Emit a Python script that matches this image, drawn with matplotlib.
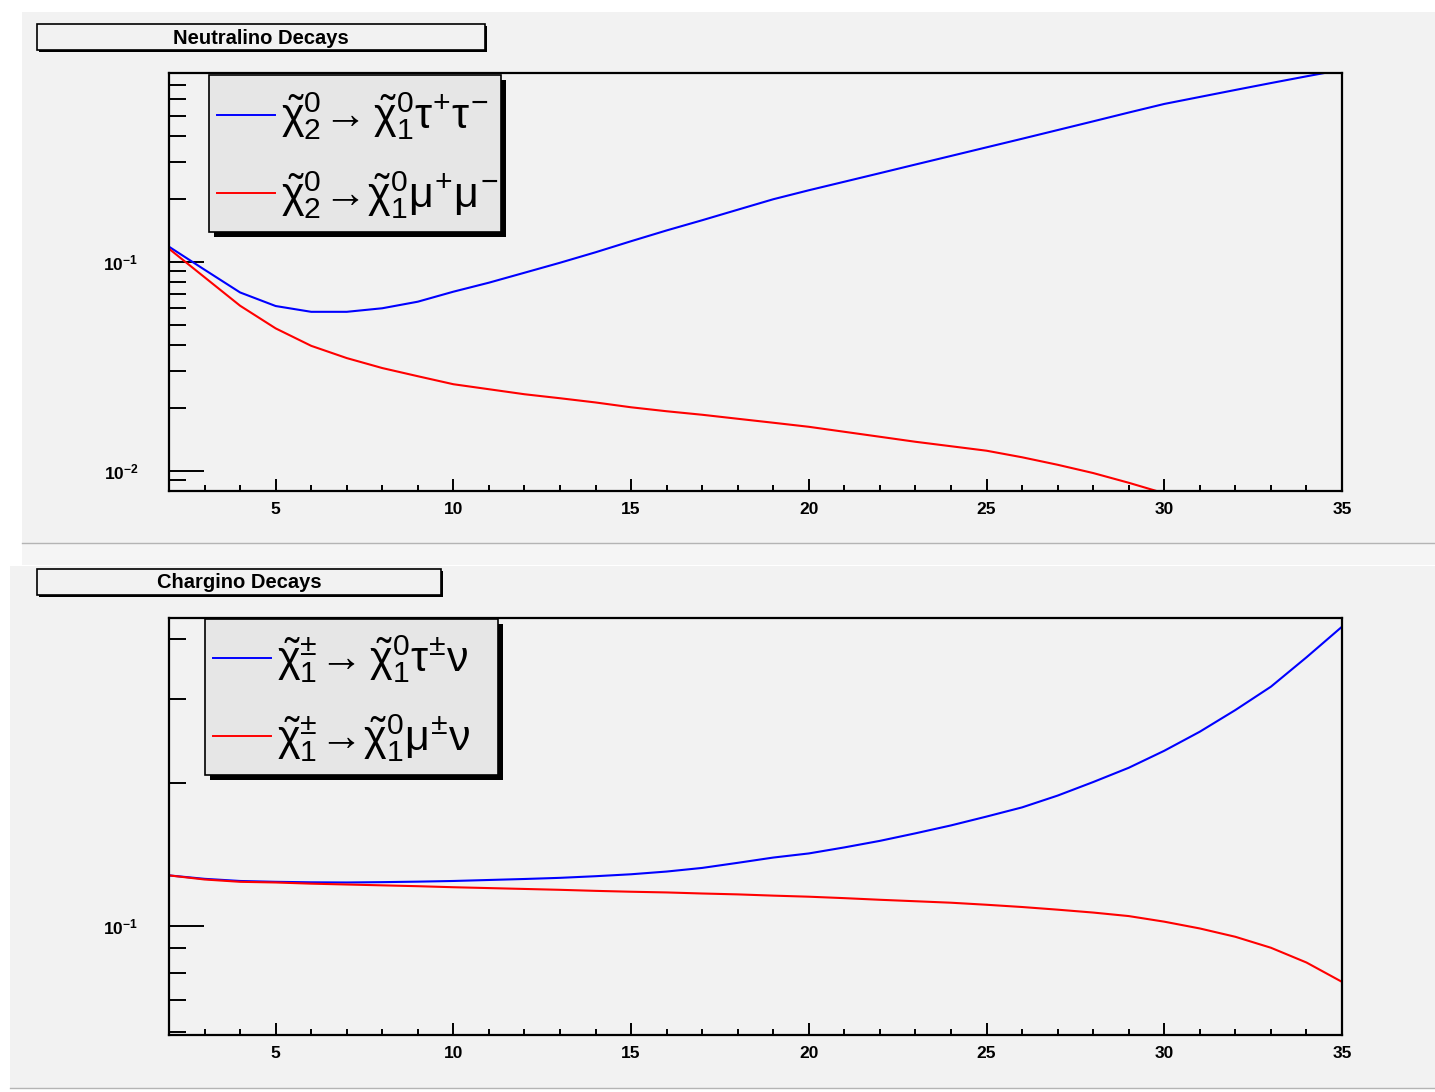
import matplotlib.pyplot as plt
from matplotlib.patches import Rectangle
from matplotlib.lines import Line2D
from matplotlib.ticker import NullFormatter

plt.rcParams['font.family'] = ['Liberation Sans', 'DejaVu Sans']
plt.rcParams['mathtext.fontset'] = 'custom'
plt.rcParams['mathtext.rm'] = 'Liberation Sans'
plt.rcParams['mathtext.it'] = 'Liberation Sans'
plt.rcParams['mathtext.bf'] = 'Liberation Sans:bold'

# data
mass = list(range(2, 36))
neut_tau = [0.1180, 0.0916, 0.0713, 0.0614, 0.0576, 0.0576, 0.0599, 0.0644, 0.0719,
            0.0794, 0.0886, 0.0989, 0.1110, 0.1254, 0.1412, 0.1580, 0.1774, 0.1991,
            0.2198, 0.2415, 0.2654, 0.2919, 0.3208, 0.3527, 0.3877, 0.4267, 0.4697,
            0.5175, 0.5689, 0.6145, 0.6637, 0.7161, 0.7712, 0.8293]
neut_mu = [0.1154, 0.0843, 0.0616, 0.0480, 0.0396, 0.0346, 0.0310, 0.02833, 0.02594,
           0.02455, 0.02323, 0.02223, 0.02122, 0.02012, 0.01926, 0.01853, 0.01773,
           0.01697, 0.01623, 0.01536, 0.01454, 0.01376, 0.01310, 0.01247, 0.01160,
           0.01068, 0.00975, 0.00876, 0.00780]
char_tau = [0.1279, 0.1258, 0.1245, 0.1240, 0.1237, 0.1236, 0.1238, 0.1241, 0.1245,
            0.1251, 0.1257, 0.1264, 0.1274, 0.1286, 0.1303, 0.1326, 0.1359, 0.1394,
            0.1422, 0.1464, 0.1511, 0.1567, 0.1628, 0.1699, 0.1776, 0.1880, 0.2007,
            0.2150, 0.2334, 0.2559, 0.2841, 0.3180, 0.3664, 0.4248]
char_mu = [0.1279, 0.1254, 0.1240, 0.1236, 0.1229, 0.1224, 0.1219, 0.1214, 0.1208,
           0.1203, 0.1198, 0.1193, 0.1187, 0.1182, 0.1178, 0.1172, 0.1167, 0.1160,
           0.1154, 0.1146, 0.1137, 0.1129, 0.1121, 0.1110, 0.1098, 0.1084, 0.1069,
           0.1051, 0.1023, 0.0990, 0.0951, 0.0902, 0.0840, 0.0765]

neut_labels = [r'$\tilde{\chi}^{0}_{2}\!\rightarrow\tilde{\chi}^{0}_{1}\tau^{+}\tau^{-}$',
               r'$\tilde{\chi}^{0}_{2}\!\rightarrow\!\tilde{\chi}^{0}_{1}\mu^{+}\mu^{-}$']
char_labels = [r'$\tilde{\chi}^{\pm}_{1}\!\rightarrow\tilde{\chi}^{0}_{1}\tau^{\pm}\nu$',
               r'$\tilde{\chi}^{\pm}_{1}\!\rightarrow\!\tilde{\chi}^{0}_{1}\mu^{\pm}\nu$']

W, H = 1435, 1092
fig = plt.figure(figsize=(W / 100, H / 100), dpi=100, facecolor='white')
PAD = '#f2f2f2'


def rect(x0, y0, x1, y1, **kw):
    # pixel box (top-left origin) -> figure rectangle
    r = Rectangle((x0 / W, 1 - y1 / H), (x1 - x0) / W, (y1 - y0) / H,
                  transform=fig.transFigure, **kw)
    fig.add_artist(r)


def shadow_box(x0, y0, x1, y1, off, face):
    rect(x0 + off, y0 + off, x1 + off, y1 + off, facecolor='black', edgecolor='none', zorder=5)
    rect(x0, y0, x1, y1, facecolor=face, edgecolor='black', lw=1.2, zorder=6)


# pads
rect(22, 12, 1435, 543, facecolor=PAD, edgecolor='none', zorder=0)
rect(22, 543, 1435, 565, facecolor='#f5f5f5', edgecolor='none', zorder=0)
rect(10, 566, 1435, 1088, facecolor=PAD, edgecolor='none', zorder=0)
fig.add_artist(Line2D([22 / W, 1], [1 - 543 / H] * 2, color='#b4b4b4', lw=1, transform=fig.transFigure))
fig.add_artist(Line2D([10 / W, 1], [1 - 1088 / H] * 2, color='#b4b4b4', lw=1, transform=fig.transFigure))


def setup(ax, ylim, major, labels, minor):
    ax.set_facecolor(PAD)
    ax.set_xlim(2, 35)
    ax.set_yscale('log')
    ax.set_ylim(*ylim)
    ax.set_xticks(range(5, 36, 5))
    ax.set_xticks(range(3, 35), minor=True)
    ax.set_yticks(major, labels)
    ax.set_yticks(minor, minor=True)
    ax.yaxis.set_minor_formatter(NullFormatter())
    ax.xaxis.set_minor_formatter(NullFormatter())
    ax.tick_params(axis='y', which='major', direction='in', length=25, width=1.4,
                   pad=22, labelsize=12.5)
    ax.tick_params(axis='y', which='minor', direction='in', length=12.5, width=1.4)
    ax.tick_params(axis='x', which='major', direction='in', length=8.5, width=1.4,
                   pad=8, labelsize=12.5)
    ax.tick_params(axis='x', which='minor', direction='in', length=4.3, width=1.4)
    for lab in ax.get_xticklabels():
        lab.set_fontweight('bold')
    for s in ax.spines.values():
        s.set_linewidth(1.6)


def legend(x0, y0, x1, y1, rows, labels):
    shadow_box(x0, y0, x1, y1, 5, '#e6e6e6')
    for (ly, col), lab in zip(rows, labels):
        fig.add_artist(Line2D([(x0 + 8) / W, (x0 + 66) / W], [1 - ly / H] * 2,
                              color=col, lw=1.4, transform=fig.transFigure, zorder=7))
        fig.text((x0 + 72) / W, 1 - (ly + 2) / H, lab, fontsize=31, va='center',
                 ha='left', zorder=7)


def title(x0, y0, x1, y1, txt):
    shadow_box(x0, y0, x1, y1, 2, PAD)
    fig.text((x0 + x1) / 2 / W, 1 - ((y0 + y1) / 2 + 1) / H, txt, fontsize=14.5,
             fontweight='bold', ha='center', va='center', zorder=7)


# top panel
ax1 = fig.add_axes([169 / W, 1 - 491 / H, 1173 / W, 418 / H])
ax1.plot(mass, neut_tau, color='#0000ff', lw=1.5)
ax1.plot(mass[:len(neut_mu)], neut_mu, color='#ff0000', lw=1.5)
setup(ax1, (0.008, 0.8), [0.01, 0.1], [r'$\mathbf{10^{-2}}$', r'$\mathbf{10^{-1}}$'],
      [0.009] + [k * 0.01 for k in range(2, 10)] + [k * 0.1 for k in range(2, 8)])
title(37, 24, 485, 50, 'Neutralino Decays')
legend(209, 75, 501, 232, [(114.5, '#0000ff'), (193, '#ff0000')], neut_labels)

# bottom panel
ax2 = fig.add_axes([169 / W, 1 - 1035 / H, 1173 / W, 417 / H])
ax2.plot(mass, char_tau, color='#0000ff', lw=1.5)
ax2.plot(mass, char_mu, color='#ff0000', lw=1.5)
setup(ax2, (0.0592, 0.443), [0.1], [r'$\mathbf{10^{-1}}$'],
      [0.06, 0.07, 0.08, 0.09, 0.2, 0.3, 0.4])
title(37, 569, 441, 595, 'Chargino Decays')
legend(205, 619, 498, 775, [(657.5, '#0000ff'), (736, '#ff0000')], char_labels)

fig.savefig('out.png', dpi=100, facecolor='white')
